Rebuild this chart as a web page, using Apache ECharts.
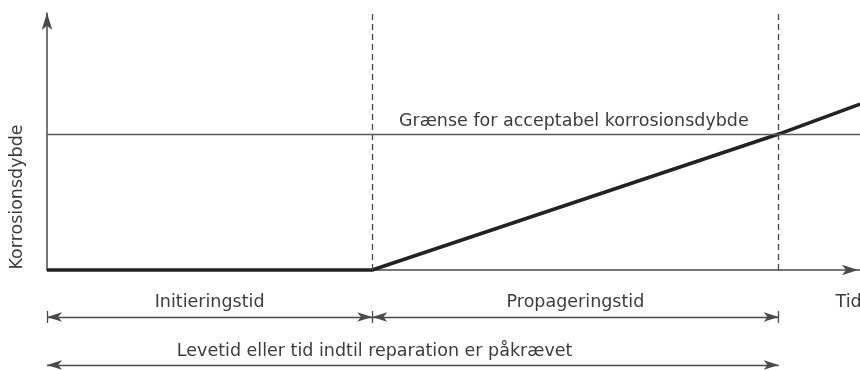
<!DOCTYPE html>
<html>
<head>
<meta charset="utf-8">
<script src="https://cdn.jsdelivr.net/npm/echarts@6/dist/echarts.min.js"></script>
<style>
  html, body { margin: 0; padding: 0; background: #ffffff; }
  #chart { width: 860px; height: 370px; }
</style>
</head>
<body>
<div id="chart"></div>
<script>
// Corrosion depth over time (relative units; depth 1 = acceptable limit)
const timePoints = [0, 4, 9, 10];
const depthValues = [0, 0, 1, 1.22];

// Phase boundaries on the time axis
const initiationEnd = 4;
const serviceLifeEnd = 9;
const acceptableDepth = 1;

// Axis extents
const timeMax = 10;
const depthMax = 1.89;

// Texts
const yAxisTitle = 'Korrosionsdybde';
const xAxisTitle = 'Tid';
const limitLabel = 'Grænse for acceptabel korrosionsdybde';
const initiationLabel = 'Initieringstid';
const propagationLabel = 'Propageringstid';
const lifeLabel = 'Levetid eller tid indtil reparation er påkrævet';

const FONT = 'DejaVu Sans';
const FONT_SIZE = 17.5;
const TEXT_COLOR = '#3c3c3c';
const LINE_COLOR = '#4a4a4a';

const chart = echarts.init(document.getElementById('chart'), null, { renderer: 'canvas' });

const curve = timePoints.map((t, i) => [t, depthValues[i]]);

// Dimension rows under the chart (second grid, y measured downward)
const row1 = 27, row2 = 75, row1Text = 12, row2Text = 61, tickHalf = 6;
const ARROW_SIZE = [7, 15];

function dimLine(x0, x1, y) {
  return [
    { coord: [x0, y], symbol: 'arrow', symbolSize: ARROW_SIZE },
    { coord: [x1, y], symbol: 'arrow', symbolSize: ARROW_SIZE }
  ];
}
function endTick(x, y) {
  return [
    { coord: [x, y - tickHalf], symbol: 'none' },
    { coord: [x, y + tickHalf], symbol: 'none' }
  ];
}
function textMark(x, y, text) {
  return {
    coord: [x, y], symbolSize: 0,
    label: { show: true, position: 'inside', formatter: text,
      fontFamily: FONT, fontSize: FONT_SIZE, color: TEXT_COLOR }
  };
}

const option = {
  animation: false,
  backgroundColor: '#ffffff',
  grid: [
    { left: 47, right: 0, top: 13, bottom: 100 },
    { left: 47, right: 0, top: 290, height: 80 }
  ],
  xAxis: [
    {
      gridIndex: 0, type: 'value', min: 0, max: timeMax,
      axisLine: { show: true, lineStyle: { color: LINE_COLOR, width: 1.5 },
        symbol: ['none', 'arrow'], symbolSize: [8, 16], symbolOffset: [0, -2] },
      axisTick: { show: false }, axisLabel: { show: false }, splitLine: { show: false }
    },
    {
      gridIndex: 1, type: 'value', min: 0, max: timeMax, show: false
    }
  ],
  yAxis: [
    {
      gridIndex: 0, type: 'value', min: 0, max: depthMax,
      axisLine: { show: true, lineStyle: { color: LINE_COLOR, width: 1.5 },
        symbol: ['none', 'arrow'], symbolSize: [8, 17], symbolOffset: [0, 0] },
      axisTick: { show: false }, axisLabel: { show: false }, splitLine: { show: false }
    },
    {
      gridIndex: 1, type: 'value', min: 0, max: 80, inverse: true, show: false
    }
  ],
  graphic: [
    {
      type: 'text', x: 17, y: 197, rotation: Math.PI / 2,
      style: { text: yAxisTitle, fontFamily: FONT, fontSize: FONT_SIZE, fill: TEXT_COLOR,
        align: 'center', verticalAlign: 'middle' }
    }
  ],
  series: [
    {
      type: 'line', xAxisIndex: 0, yAxisIndex: 0,
      data: curve, symbol: 'none', clip: false,
      lineStyle: { color: '#222222', width: 3.5 },
      markLine: {
        silent: true, symbol: 'none', animation: false,
        label: { show: false },
        data: [
          { xAxis: initiationEnd, lineStyle: { type: [6, 4], color: LINE_COLOR, width: 1.3 } },
          { xAxis: serviceLifeEnd, lineStyle: { type: [6, 4], color: LINE_COLOR, width: 1.3 } },
          [
            { coord: [0, acceptableDepth], lineStyle: { type: 'solid', color: '#5a5a5a', width: 1.4 } },
            { coord: [timeMax, acceptableDepth] }
          ]
        ]
      },
      markPoint: {
        silent: true, animation: false,
        data: [
          {
            coord: [6.48, acceptableDepth], symbolSize: 0,
            label: { show: true, position: 'top', distance: 4, formatter: limitLabel,
              fontFamily: FONT, fontSize: FONT_SIZE, color: TEXT_COLOR }
          }
        ]
      }
    },
    {
      type: 'scatter', xAxisIndex: 1, yAxisIndex: 1, data: [],
      markLine: {
        silent: true, animation: false,
        symbol: ['arrow', 'arrow'], symbolSize: 12,
        label: { show: false },
        lineStyle: { type: 'solid', color: LINE_COLOR, width: 1.3 },
        data: [
          dimLine(0, initiationEnd, row1),
          dimLine(initiationEnd, serviceLifeEnd, row1),
          dimLine(0, serviceLifeEnd, row2),
          endTick(0, row1), endTick(initiationEnd, row1), endTick(serviceLifeEnd, row1),
          endTick(0, row2), endTick(serviceLifeEnd, row2)
        ]
      },
      markPoint: {
        silent: true, animation: false,
        data: [
          textMark(initiationEnd / 2, row1Text, initiationLabel),
          textMark((initiationEnd + serviceLifeEnd) / 2, row1Text, propagationLabel),
          textMark(4.03, row2Text, lifeLabel),
          textMark(9.86, row1Text, xAxisTitle)
        ]
      }
    }
  ]
};

chart.setOption(option);
</script>
</body>
</html>
